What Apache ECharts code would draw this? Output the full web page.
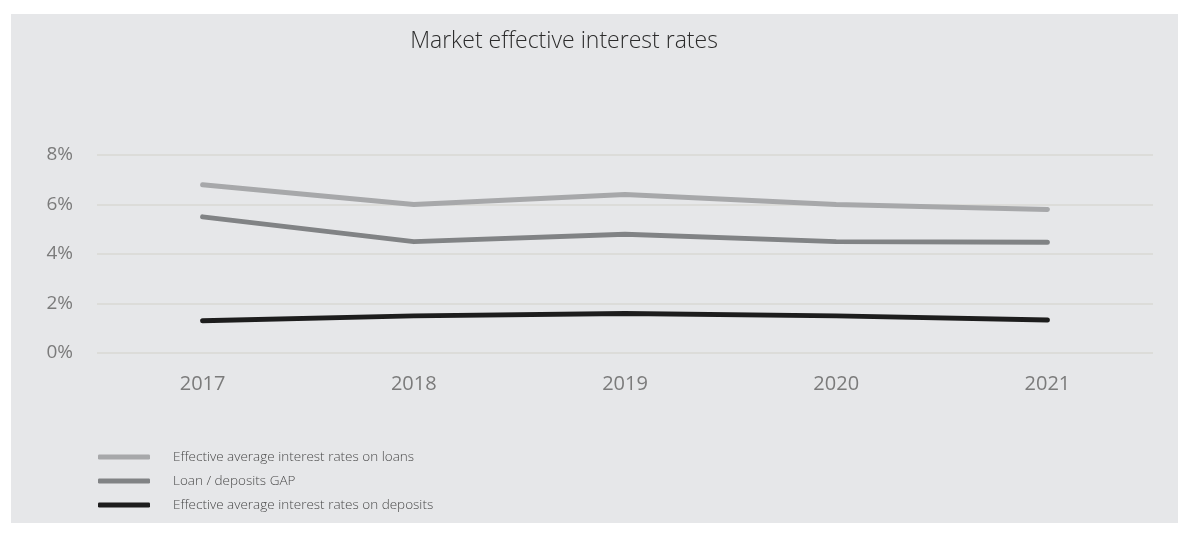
<!DOCTYPE html>
<html>
<head>
<meta charset="utf-8">
<script src="https://cdn.jsdelivr.net/npm/echarts@6/dist/echarts.min.js"></script>
<style>
  html, body { margin: 0; padding: 0; background: #ffffff; }
  #chart { width: 1178px; height: 533px; }
</style>
</head>
<body>
<div id="chart"></div>
<script>
// Years on the horizontal axis
const years = ['2017', '2018', '2019', '2020', '2021'];

// Rates in percent
const loanRates = [6.8, 6.0, 6.4, 6.0, 5.8];
const gapRates = [5.5, 4.5, 4.8, 4.5, 4.47];
const depositRates = [1.3, 1.5, 1.6, 1.5, 1.33];

const seriesNames = [
  'Effective average interest rates on loans',
  'Loan / deposits GAP',
  'Effective average interest rates on deposits'
];
const seriesColors = ['#a7a8aa', '#818385', '#1d1d1d'];

const chart = echarts.init(document.getElementById('chart'), null, { renderer: 'canvas' });

function lineSeries(name, data, color) {
  return {
    name: name,
    type: 'line',
    data: data,
    symbol: 'none',
    smooth: false,
    lineStyle: { color: color, width: 5, cap: 'round', join: 'round' },
    itemStyle: { color: color }
  };
}

chart.setOption({
  animation: false,
  backgroundColor: '#ffffff',
  graphic: [{
    type: 'rect',
    left: 11,
    top: 14,
    z: -10,
    shape: { width: 1167, height: 509 },
    style: { fill: '#e6e7e9' }
  }],
  title: {
    text: 'Market effective interest rates',
    left: 559,
    top: 25,
    textAlign: 'center',
    textStyle: {
      fontFamily: 'Open Sans',
      fontWeight: 300,
      fontSize: 23,
      color: '#2b2b2b'
    }
  },
  legend: {
    orient: 'vertical',
    left: 98,
    top: 450,
    padding: 0,
    itemWidth: 52,
    itemHeight: 5,
    itemGap: 10,
    icon: 'roundRect',
    data: seriesNames,
    textStyle: {
      fontFamily: 'Open Sans',
      fontWeight: 300,
      fontSize: 13.5,
      lineHeight: 14,
      color: '#4a4a4a',
      padding: [0, 0, 0, 18]
    }
  },
  grid: {
    left: 97,
    right: 25,
    top: 155,
    bottom: 180,
    containLabel: false
  },
  xAxis: {
    type: 'category',
    data: years,
    boundaryGap: true,
    axisLine: { show: false },
    axisTick: { show: false },
    axisLabel: {
      margin: 21,
      fontFamily: 'Open Sans',
      fontSize: 20,
      color: '#7b7b7b'
    }
  },
  yAxis: {
    type: 'value',
    min: 0,
    max: 8,
    interval: 2,
    axisLine: { show: false },
    axisTick: { show: false },
    axisLabel: {
      formatter: '{value}%',
      margin: 24,
      fontFamily: 'Open Sans',
      fontSize: 19,
      color: '#7b7b7b'
    },
    splitLine: { lineStyle: { color: '#d8d8d3', width: 1.5 } }
  },
  series: [
    lineSeries(seriesNames[0], loanRates, seriesColors[0]),
    lineSeries(seriesNames[1], gapRates, seriesColors[1]),
    lineSeries(seriesNames[2], depositRates, seriesColors[2])
  ]
});
</script>
</body>
</html>
